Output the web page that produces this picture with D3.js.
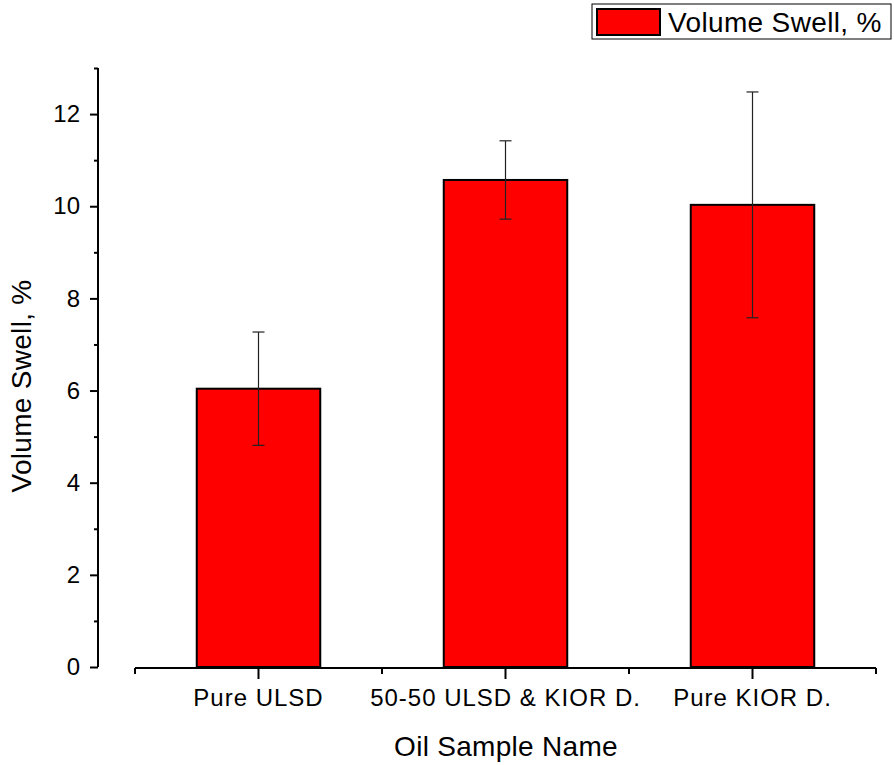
<!DOCTYPE html>
<html>
<head>
<meta charset="utf-8">
<script src="https://cdn.jsdelivr.net/npm/d3@7"></script>
<style>
  body { margin: 0; background: #fff; }
  text { font-family: "Liberation Sans", Arial, sans-serif; fill: #000; }
</style>
</head>
<body>
<svg id="graphe" width="894" height="765"></svg>
<script>
// donnees
var echantillons = ["Pure ULSD", "50-50 ULSD & KIOR D.", "Pure KIOR D."];
var gonflement = [6.04, 10.57, 10.03];
var erreurs = [1.23, 0.85, 2.45];
var ticksY = [0, 2, 4, 6, 8, 10, 12];
var ticksMineursY = [1, 3, 5, 7, 9, 11, 13];

var svg = d3.select("#graphe");

var x = d3.scaleBand().domain(echantillons).range([135, 876]).paddingInner(0).paddingOuter(0);
var y = d3.scaleLinear().domain([0, 13]).range([667, 68]);

var largeurBarre = x.bandwidth() / 2;

//------------------- barres ----------------------------------------
svg.selectAll("rect.barre")
    .data(echantillons)
    .enter()
    .append("rect")
    .attr("class", "barre")
    .attr("x", function(d){ return x(d) + x.bandwidth()/2 - largeurBarre/2; })
    .attr("y", function(d, i){ return y(gonflement[i]); })
    .attr("width", largeurBarre)
    .attr("height", function(d, i){ return y(0) - y(gonflement[i]); })
    .attr("fill", "#ff0000")
    .attr("stroke", "#000")
    .attr("stroke-width", 2);

//------------------- barres d'erreur ----------------------------------------
echantillons.forEach(function(d, i){
    var cx = x(d) + x.bandwidth()/2;
    var haut = y(gonflement[i] + erreurs[i]);
    var bas = y(gonflement[i] - erreurs[i]);
    var g = svg.append("g").attr("stroke", "#222").attr("stroke-width", 1.2);
    g.append("line").attr("x1", cx).attr("x2", cx).attr("y1", haut).attr("y2", bas);
    g.append("line").attr("x1", cx - 6).attr("x2", cx + 6).attr("y1", haut).attr("y2", haut);
    g.append("line").attr("x1", cx - 6).attr("x2", cx + 6).attr("y1", bas).attr("y2", bas);
});

//------------------- axe Y ----------------------------------------
var axeY = svg.append("g").attr("transform", "translate(98,0)");
axeY.call(d3.axisLeft(y).tickValues(ticksY).tickSize(8).tickPadding(10).tickFormat(d3.format("d")));
axeY.append("g").call(d3.axisLeft(y).tickValues(ticksMineursY).tickSize(4).tickFormat(""));
axeY.selectAll("path.domain").attr("stroke-width", 2).attr("d", "M0," + y(13) + "V" + y(0));
axeY.selectAll(".tick line").attr("stroke-width", 2);
axeY.selectAll("text").style("font-size", "24px").style("font-family", "Liberation Sans, Arial, sans-serif");

//------------------- axe X ----------------------------------------
var axeX = svg.append("g").attr("transform", "translate(0,668)");
axeX.call(d3.axisBottom(x).tickSize(11).tickPadding(10));
axeX.selectAll("path.domain").attr("stroke-width", 2).attr("d", "M135,0H876");
axeX.selectAll(".tick line").attr("stroke-width", 2);
axeX.selectAll("text")
    .style("font-size", "24px")
    .style("letter-spacing", "1px")
    .style("font-family", "Liberation Sans, Arial, sans-serif");
// petites graduations aux limites des categories
var limites = echantillons.map(function(d){ return x(d); }).concat([x.range()[1]]);
axeX.selectAll("line.mineur")
    .data(limites)
    .enter()
    .append("line")
    .attr("class", "mineur")
    .attr("x1", function(d){ return d; })
    .attr("x2", function(d){ return d; })
    .attr("y1", 0)
    .attr("y2", 6)
    .attr("stroke", "#000")
    .attr("stroke-width", 2);

//------------------- titres ----------------------------------------
svg.append("text")
    .attr("x", 506).attr("y", 756)
    .attr("text-anchor", "middle")
    .style("font-size", "28px")
    .style("letter-spacing", "0.3px")
    .text("Oil Sample Name");

svg.append("text")
    .attr("transform", "translate(31,386) rotate(-90)")
    .attr("text-anchor", "middle")
    .style("font-size", "28px")
    .style("letter-spacing", "0.3px")
    .text("Volume Swell, %");

//------------------- legende ----------------------------------------
var legende = svg.append("g");
legende.append("rect")
    .attr("x", 592).attr("y", 4).attr("width", 299).attr("height", 35)
    .attr("fill", "#fff").attr("stroke", "#000").attr("stroke-width", 1);
legende.append("rect")
    .attr("x", 597).attr("y", 9).attr("width", 63).attr("height", 26)
    .attr("fill", "#ff0000").attr("stroke", "#000").attr("stroke-width", 2);
legende.append("text")
    .attr("x", 668).attr("y", 32)
    .style("font-size", "28px")
    .style("letter-spacing", "0.35px")
    .text("Volume Swell, %");
</script>
</body>
</html>
